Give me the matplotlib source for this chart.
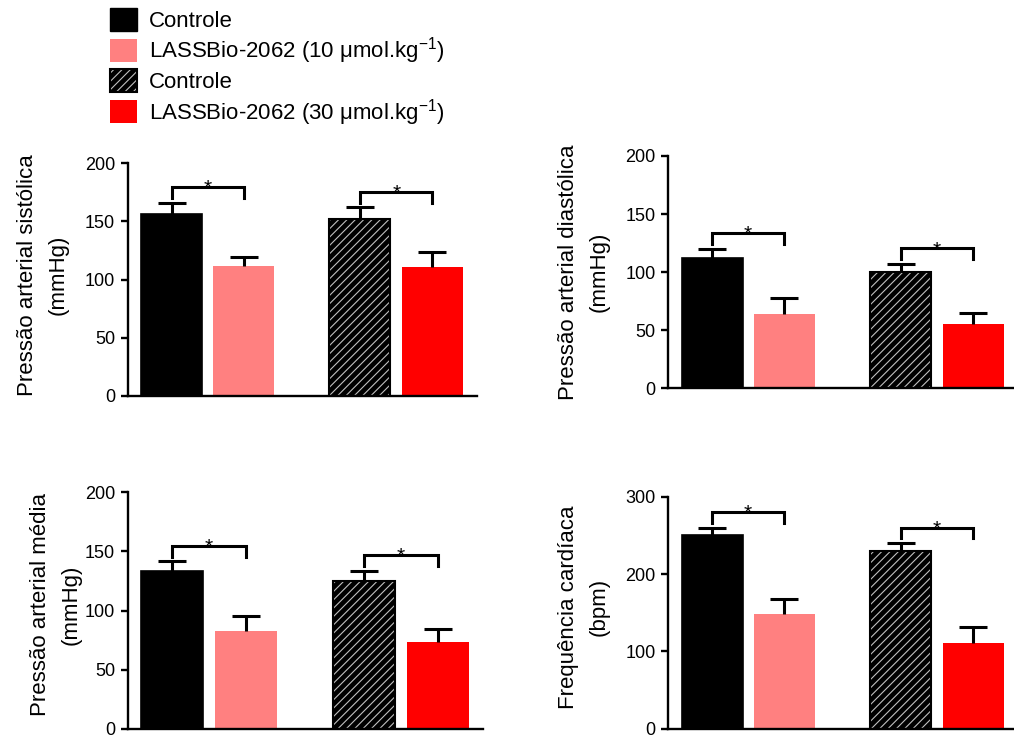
import numpy as np
import matplotlib
matplotlib.use('Agg')
import matplotlib.pyplot as plt
from matplotlib.patches import Patch

plt.rcParams['font.family'] = ['Liberation Sans', 'DejaVu Sans']
plt.rcParams['mathtext.fontset'] = 'custom'
plt.rcParams['mathtext.rm'] = 'Liberation Sans'
plt.rcParams['mathtext.default'] = 'regular'
plt.rcParams['hatch.linewidth'] = 0.8

#------------ DATA (mean + upper SEM) ------------
groups = ['Controle',
          'LASSBio-2062 (10 μmol.kg$^{-1}$)',
          'Controle',
          'LASSBio-2062 (30 μmol.kg$^{-1}$)']

pas_mean = [156, 112, 152, 111]     # pressao sistolica
pas_err = [10, 7, 10, 13]
pad_mean = [112, 64, 100, 55]       # pressao diastolica
pad_err = [8, 14, 7, 10]
pam_mean = [133, 83, 125, 73]       # pressao media
pam_err = [8.5, 12, 8.5, 11.5]
fc_mean = [250, 148, 230, 111]      # frequencia cardiaca
fc_err = [10, 20, 10, 20]

ylabels = ['Pressão arterial sistólica\n(mmHg)',
           'Pressão arterial diastólica\n(mmHg)',
           'Pressão arterial média\n(mmHg)',
           'Frequência cardíaca\n(bpm)']
ymax = [200, 200, 200, 300]
ystep = [50, 50, 50, 100]
sig_pairs = [(0, 1), (2, 3)]

#------------ LAYOUT ------------
W, H = 1014, 756
rects = [[127.7 / W, 1 - 395.7 / H, 349.3 / W, 232.4 / H],
         [668.3 / W, 1 - 388.3 / H, 345.7 / W, 232.3 / H],
         [127.7 / W, 1 - 728.7 / H, 355.3 / W, 236.4 / H],
         [668.3 / W, 1 - 728.7 / H, 345.7 / W, 232.0 / H]]
xright = [5.73, 5.67, 5.73, 5.67]
label_xy = [(-0.168, 0.52), (-0.169, 0.5), (-0.129, 0.525), (-0.169, 0.525)]
xpos = [0.72, 1.9, 3.81, 5.0]
pink = '#ff8080'
red = '#ff0000'
hatch_col = '#c0c0c0'

fig = plt.figure(figsize=(W / 100, H / 100), dpi=100)

means = [pas_mean, pad_mean, pam_mean, fc_mean]
errs = [pas_err, pad_err, pam_err, fc_err]

for k in range(4):
    ax = fig.add_axes(rects[k])
    m = np.array(means[k])
    e = np.array(errs[k])

    ax.bar(xpos[0], m[0], 1.0, color='k', edgecolor='k', linewidth=1.2)
    ax.bar(xpos[1], m[1], 1.0, color=pink, linewidth=0)
    ax.bar(xpos[2], m[2], 1.0, color='k', edgecolor=hatch_col, hatch='////', linewidth=0)
    ax.bar(xpos[2], m[2], 1.0, fill=False, edgecolor='k', linewidth=1.5)
    ax.bar(xpos[3], m[3], 1.0, color=red, linewidth=0)

    # upper error bars only: stem + cap
    ax.errorbar(xpos, m, yerr=[np.zeros(4), e], fmt='none', ecolor='k',
                elinewidth=2.2, capsize=0)
    ax.plot(xpos, m + e, linestyle='none', marker='_', markersize=20.8,
            markeredgewidth=2.2, color='k')

    # significance brackets
    for i, j in sig_pairs:
        top = max(m[i] + e[i], m[j] + e[j])
        yb = top + 0.067 * ymax[k]
        yd = yb - 0.047 * ymax[k]
        ax.plot([xpos[i], xpos[i], xpos[j], xpos[j]], [yd, yb, yb, yd],
                color='k', lw=2.2, solid_joinstyle='miter', clip_on=False)
        ax.annotate('*', xy=((xpos[i] + xpos[j]) / 2, yb), xytext=(0, -5),
                    textcoords='offset points', ha='center', va='baseline',
                    fontsize=15)

    ax.set_xlim(0, xright[k])
    ax.set_ylim(0, ymax[k])
    ax.set_yticks(np.arange(0, ymax[k] + 1, ystep[k]))
    ax.set_xticks([])
    for s in ['top', 'right']:
        ax.spines[s].set_visible(False)
    for s in ['left', 'bottom']:
        ax.spines[s].set_linewidth(1.7)
    ax.tick_params(axis='y', length=5, width=1.7, labelsize=13, pad=4)
    ax.set_ylabel(ylabels[k], fontsize=16, linespacing=1.6)
    ax.yaxis.set_label_coords(*label_xy[k])

#------------ LEGEND ------------
handles = [Patch(facecolor='k', edgecolor='k'),
           Patch(facecolor=pink, edgecolor='none'),
           (Patch(facecolor='k', edgecolor=hatch_col, hatch='////', linewidth=0),
            Patch(fill=False, edgecolor='k', linewidth=1.5)),
           Patch(facecolor=red, edgecolor='none')]
fig.legend(handles, groups, loc='upper left', bbox_to_anchor=(110 / W, 1 - 8 / H),
           frameon=False, borderpad=0, borderaxespad=0, handlelength=1.2,
           handleheight=1.2, handletextpad=0.55, labelspacing=0.15, fontsize=16)

fig.savefig('out.png', dpi=100)
